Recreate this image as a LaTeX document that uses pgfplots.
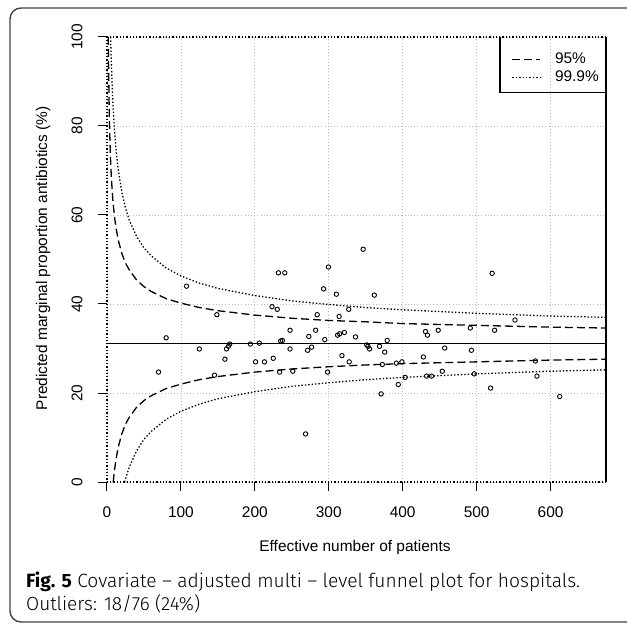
\documentclass[border=0pt]{standalone}
\usepackage{fontspec}
\setmainfont{Liberation Sans}
\newfontfamily\capfont{Fira Sans Light}
\newfontfamily\capbold{Fira Sans Bold}
\usepackage{graphicx}
\usepackage{pgfplots}
\pgfplotsset{compat=1.18}

\newcommand{\plotfont}{\fontsize{15.5}{18}\selectfont}

\begin{document}
\begin{tikzpicture}
\useasboundingbox (-107bp,-144bp) rectangle (520bp,482bp);
% card frame round the figure
\draw[line width=1.4bp, draw=black!75, rounded corners=11bp] (-97bp,-140bp) rectangle (560bp,474bp);

\begin{axis}[
    scale only axis, width=499bp, height=445bp,
    xmin=0, xmax=675, ymin=0, ymax=100,
    axis line style={draw=none},
    clip=false,
    xtick={0,100,...,600}, ytick={0,20,...,100},
    xtick pos=left, ytick pos=left,
    tick align=outside, major tick length=9bp,
    tick style={black, line width=1bp},
    /pgf/number format/assume math mode=true,
    ticklabel style={font=\plotfont},
    yticklabel style={rotate=90, anchor=south},
    xticklabel shift=12bp, yticklabel shift=12bp,
    grid=major,
    grid style={draw=black!28, dash pattern=on 1bp off 2.2bp, line width=0.8bp},
    xlabel={Effective number of patients},
    ylabel={Predicted marginal proportion antibiotics (\%)},
    label style={font=\plotfont},
    xlabel style={at={(axis description cs:0.497,-0.148)}, anchor=center},
    ylabel style={at={(axis description cs:-0.128,0.503)}, anchor=center},
    legend style={at={(1,1)}, anchor=north east, draw=none, fill=none,
        xshift=3bp, yshift=-4bp,
        inner xsep=10bp, inner ysep=11bp, row sep=4bp, font=\plotfont,
        nodes={inner sep=0pt, text height=11bp, text depth=3bp},
        /tikz/every odd column/.append style={column sep=14bp}},
    legend cell align=left,
    legend image code/.code={\draw[#1] (0bp,0bp) -- (28bp,0bp);},
]

% plot box: dotted on three sides, solid on the right
\addplot[forget plot, black, line width=1.1bp, dash pattern=on 1.3bp off 2bp]
    coordinates {(675,100)(0,100)(0,0)(675,0)};
\addplot[forget plot, black, line width=1.2bp] coordinates {(675,0)(675,100)};
\addplot[forget plot, black, line width=1.2bp] coordinates {(531.6,100)(531.6,87.6)(675,87.6)};

% overall proportion
\addplot[forget plot, black, line width=1.2bp] coordinates {(0,31.1)(675,31.1)};

% 95% limits
\addplot[black, line width=1.3bp, dash pattern=on 8bp off 4bp] coordinates {
(1.75,100)(2,95.3)(3,83.5)(4,76.5)(5,71.7)(6,68.1)(8,63.2)(10,59.8)(12,57.3)
(15,54.5)(20,51.4)(25,49.2)(30,47.7)(40,45.4)(50,43.9)(60,42.8)(80,41.2)
(100,40.2)(125,39.2)(150,38.5)(200,37.5)(250,36.8)(300,36.3)(350,36.0)
(400,35.6)(450,35.4)(500,35.2)(550,35.0)(600,34.8)(675,34.6)};
\addlegendentry{95\%}
\addplot[forget plot, black, line width=1.3bp, dash pattern=on 8bp off 4bp] coordinates {
(8.4,0)(10,2.4)(12,4.9)(15,7.7)(20,10.8)(25,13.0)(30,14.5)(40,16.8)(50,18.3)
(60,19.4)(80,21.0)(100,22.0)(125,23.0)(150,23.7)(200,24.7)(250,25.4)
(300,25.9)(350,26.3)(400,26.6)(450,26.8)(500,27.0)(550,27.2)(600,27.4)(675,27.6)};

% 99.9% limits
\addplot[black, line width=1.3bp, dash pattern=on 1.4bp off 2bp] coordinates {
(4.9,100)(5,99.2)(6,93.3)(8,85.0)(10,79.3)(12,75.1)(15,70.4)(20,65.2)(25,61.6)
(30,58.9)(40,55.2)(50,52.6)(60,50.8)(80,48.1)(100,46.3)(125,44.7)(150,43.5)
(200,41.9)(250,40.7)(300,39.9)(350,39.2)(400,38.7)(450,38.3)(500,37.9)
(550,37.6)(600,37.3)(675,37.0)};
\addlegendentry{99.9\%}
\addplot[forget plot, black, line width=1.3bp, dash pattern=on 1.4bp off 2bp] coordinates {
(24,0)(25,0.6)(30,3.3)(40,7.0)(50,9.6)(60,11.4)(80,14.1)(100,15.9)(125,17.5)
(150,18.7)(200,20.3)(250,21.5)(300,22.3)(350,23.0)(400,23.5)(450,23.9)
(500,24.3)(550,24.6)(600,24.9)(675,25.2)};

% hospitals
\addplot[forget plot, only marks, mark=o, mark size=2.2bp, mark options={black, line width=0.9bp}] coordinates {
(69.7,24.7)(80,32.4)(107.6,44.0)(124.9,29.9)(145.4,24.0)(148.6,37.6)(159.5,27.6)
(161.6,29.9)(164.3,30.5)(166,31.0)(194,31.0)(201,27.0)(206,31.2)(213,27.0)
(224.9,27.8)(223.2,39.4)(230.3,38.8)(231.9,47.0)(240.5,47.0)(233.5,24.7)
(235,31.7)(237.3,31.8)(247.6,34.1)(247.6,29.9)(251.4,24.9)(271.4,29.6)
(273,32.7)(276.8,30.3)(268.6,10.8)(282.2,34.1)(284.3,37.6)(293,43.4)
(294.6,32.0)(298.4,24.7)(299.5,48.3)(310.3,42.2)(311.9,33.0)(314,37.2)
(314.6,33.3)(317.8,28.4)(321.1,33.6)(327,38.8)(327.6,27.0)(336.2,32.6)
(346.5,52.3)(351.4,30.8)(353,30.5)(355.1,29.9)(361.6,42.0)(368.6,30.5)
(370.8,19.8)(372.4,26.4)(375.7,29.2)(379,31.8)(391.4,26.7)(394,21.9)
(398.9,27.0)(403.2,23.5)(428,28.1)(430.8,33.8)(433.5,33.0)(432.4,23.8)
(438.9,23.8)(448,34.1)(453.5,24.9)(456.8,30.1)(491.4,34.6)(493,29.6)
(496.8,24.3)(518.9,21.1)(521,46.9)(524.3,34.1)(551.9,36.4)(579.5,27.2)
(581.6,23.8)(612.4,19.2)};
\end{axis}

\node[anchor=base west, inner sep=0pt] at (-81bp,-105bp)
    {\resizebox{554bp}{!}{\capfont\fontsize{19}{23}\selectfont{\capbold Fig. 5} Covariate – adjusted multi – level funnel plot for hospitals.}};
\node[anchor=base west, inner sep=0pt] at (-81bp,-128bp)
    {\resizebox{174bp}{!}{\capfont\fontsize{19}{23}\selectfont Outliers: 18/76 (24\%)}};
\end{tikzpicture}
\end{document}
